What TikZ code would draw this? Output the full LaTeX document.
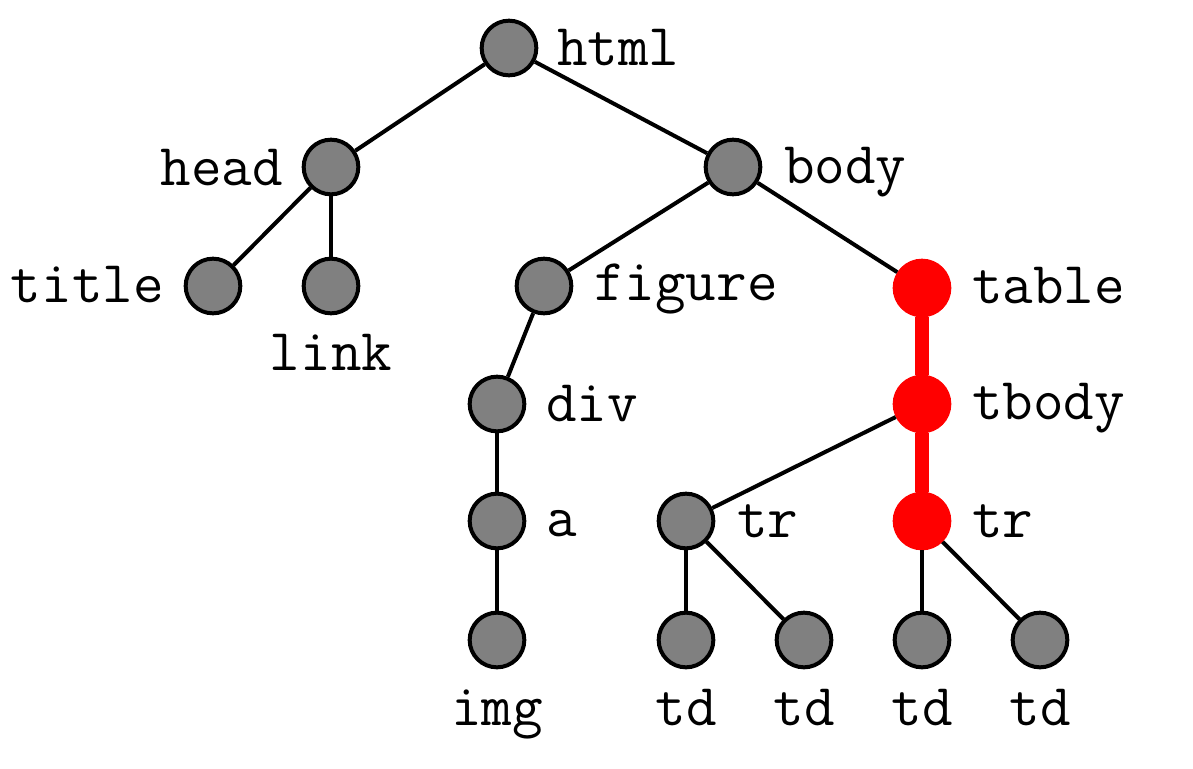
\documentclass[tikz,border=0pt]{standalone}
\begin{document}
\begin{tikzpicture}[x=0.75pt,y=-0.75pt,
  vert/.style={circle,draw=black,line width=3pt,fill=black!50,minimum size=41pt,inner sep=0pt},
  hot/.style={circle,draw=red,line width=3pt,fill=red,minimum size=41pt,inner sep=0pt},
  lbl/.style={inner sep=0pt,font=\fontsize{44.5}{52}\selectfont\ttfamily},
  edge/.style={line width=3pt,black},
  hotedge/.style={line width=10.5pt,red}]
\useasboundingbox (0,0) rectangle (1193,768);
% vertices
\node[vert] (html) at (509,48) {};
\node[vert] (head) at (331,167) {};
\node[vert] (body) at (733,167) {};
\node[vert] (title) at (213,286) {};
\node[vert] (link) at (331,286) {};
\node[vert] (figure) at (544,286) {};
\node[hot] (table) at (922,288) {};
\node[vert] (div) at (497,404) {};
\node[hot] (tbody) at (922,404) {};
\node[vert] (a) at (497,521) {};
\node[vert] (tr1) at (686,521) {};
\node[hot] (tr2) at (922,521) {};
\node[vert] (img) at (497,640) {};
\node[vert] (td1) at (686,640) {};
\node[vert] (td2) at (804,640) {};
\node[vert] (td3) at (922,640) {};
\node[vert] (td4) at (1040,640) {};
% edges
\draw[edge] (html) -- (head);
\draw[edge] (html) -- (body);
\draw[edge] (head) -- (title);
\draw[edge] (head) -- (link);
\draw[edge] (body) -- (figure);
\draw[edge] (body) -- (table);
\draw[edge] (figure) -- (div);
\draw[edge] (div) -- (a);
\draw[edge] (a) -- (img);
\draw[edge] (tbody) -- (tr1);
\draw[edge] (tr1) -- (td1);
\draw[edge] (tr1) -- (td2);
\draw[edge] (tr2) -- (td3);
\draw[edge] (tr2) -- (td4);
\draw[hotedge] (table) -- (tbody);
\draw[hotedge] (tbody) -- (tr2);
% labels
\node[lbl,anchor=base west] (lhtml) at (557,65) {html};
\node[lbl,anchor=base east] (lhead) at (283,185) {head};
\node[lbl,anchor=base west] (lbody) at (784,183) {body};
\node[lbl,anchor=base east] (ltitle) at (164,302) {title};
\node[lbl,anchor=base] (llink) at (331,370) {link};
\node[lbl,anchor=base west] (lfigure) at (594,300) {figure};
\node[lbl,anchor=base west] (ltable) at (972,303) {table};
\node[lbl,anchor=base west] (ldiv) at (546,421) {div};
\node[lbl,anchor=base west] (ltbody) at (972,419) {tbody};
\node[lbl,anchor=base west] (la) at (546,536) {a};
\node[lbl,anchor=base west] (ltr1) at (737,537) {tr};
\node[lbl,anchor=base west] (ltr2) at (972,537) {tr};
\node[lbl,anchor=base] (limg) at (497,725) {img};
\node[lbl,anchor=base] (ltd1) at (686,725) {td};
\node[lbl,anchor=base] (ltd2) at (804,725) {td};
\node[lbl,anchor=base] (ltd3) at (922,725) {td};
\node[lbl,anchor=base] (ltd4) at (1040,725) {td};
\end{tikzpicture}
\end{document}
